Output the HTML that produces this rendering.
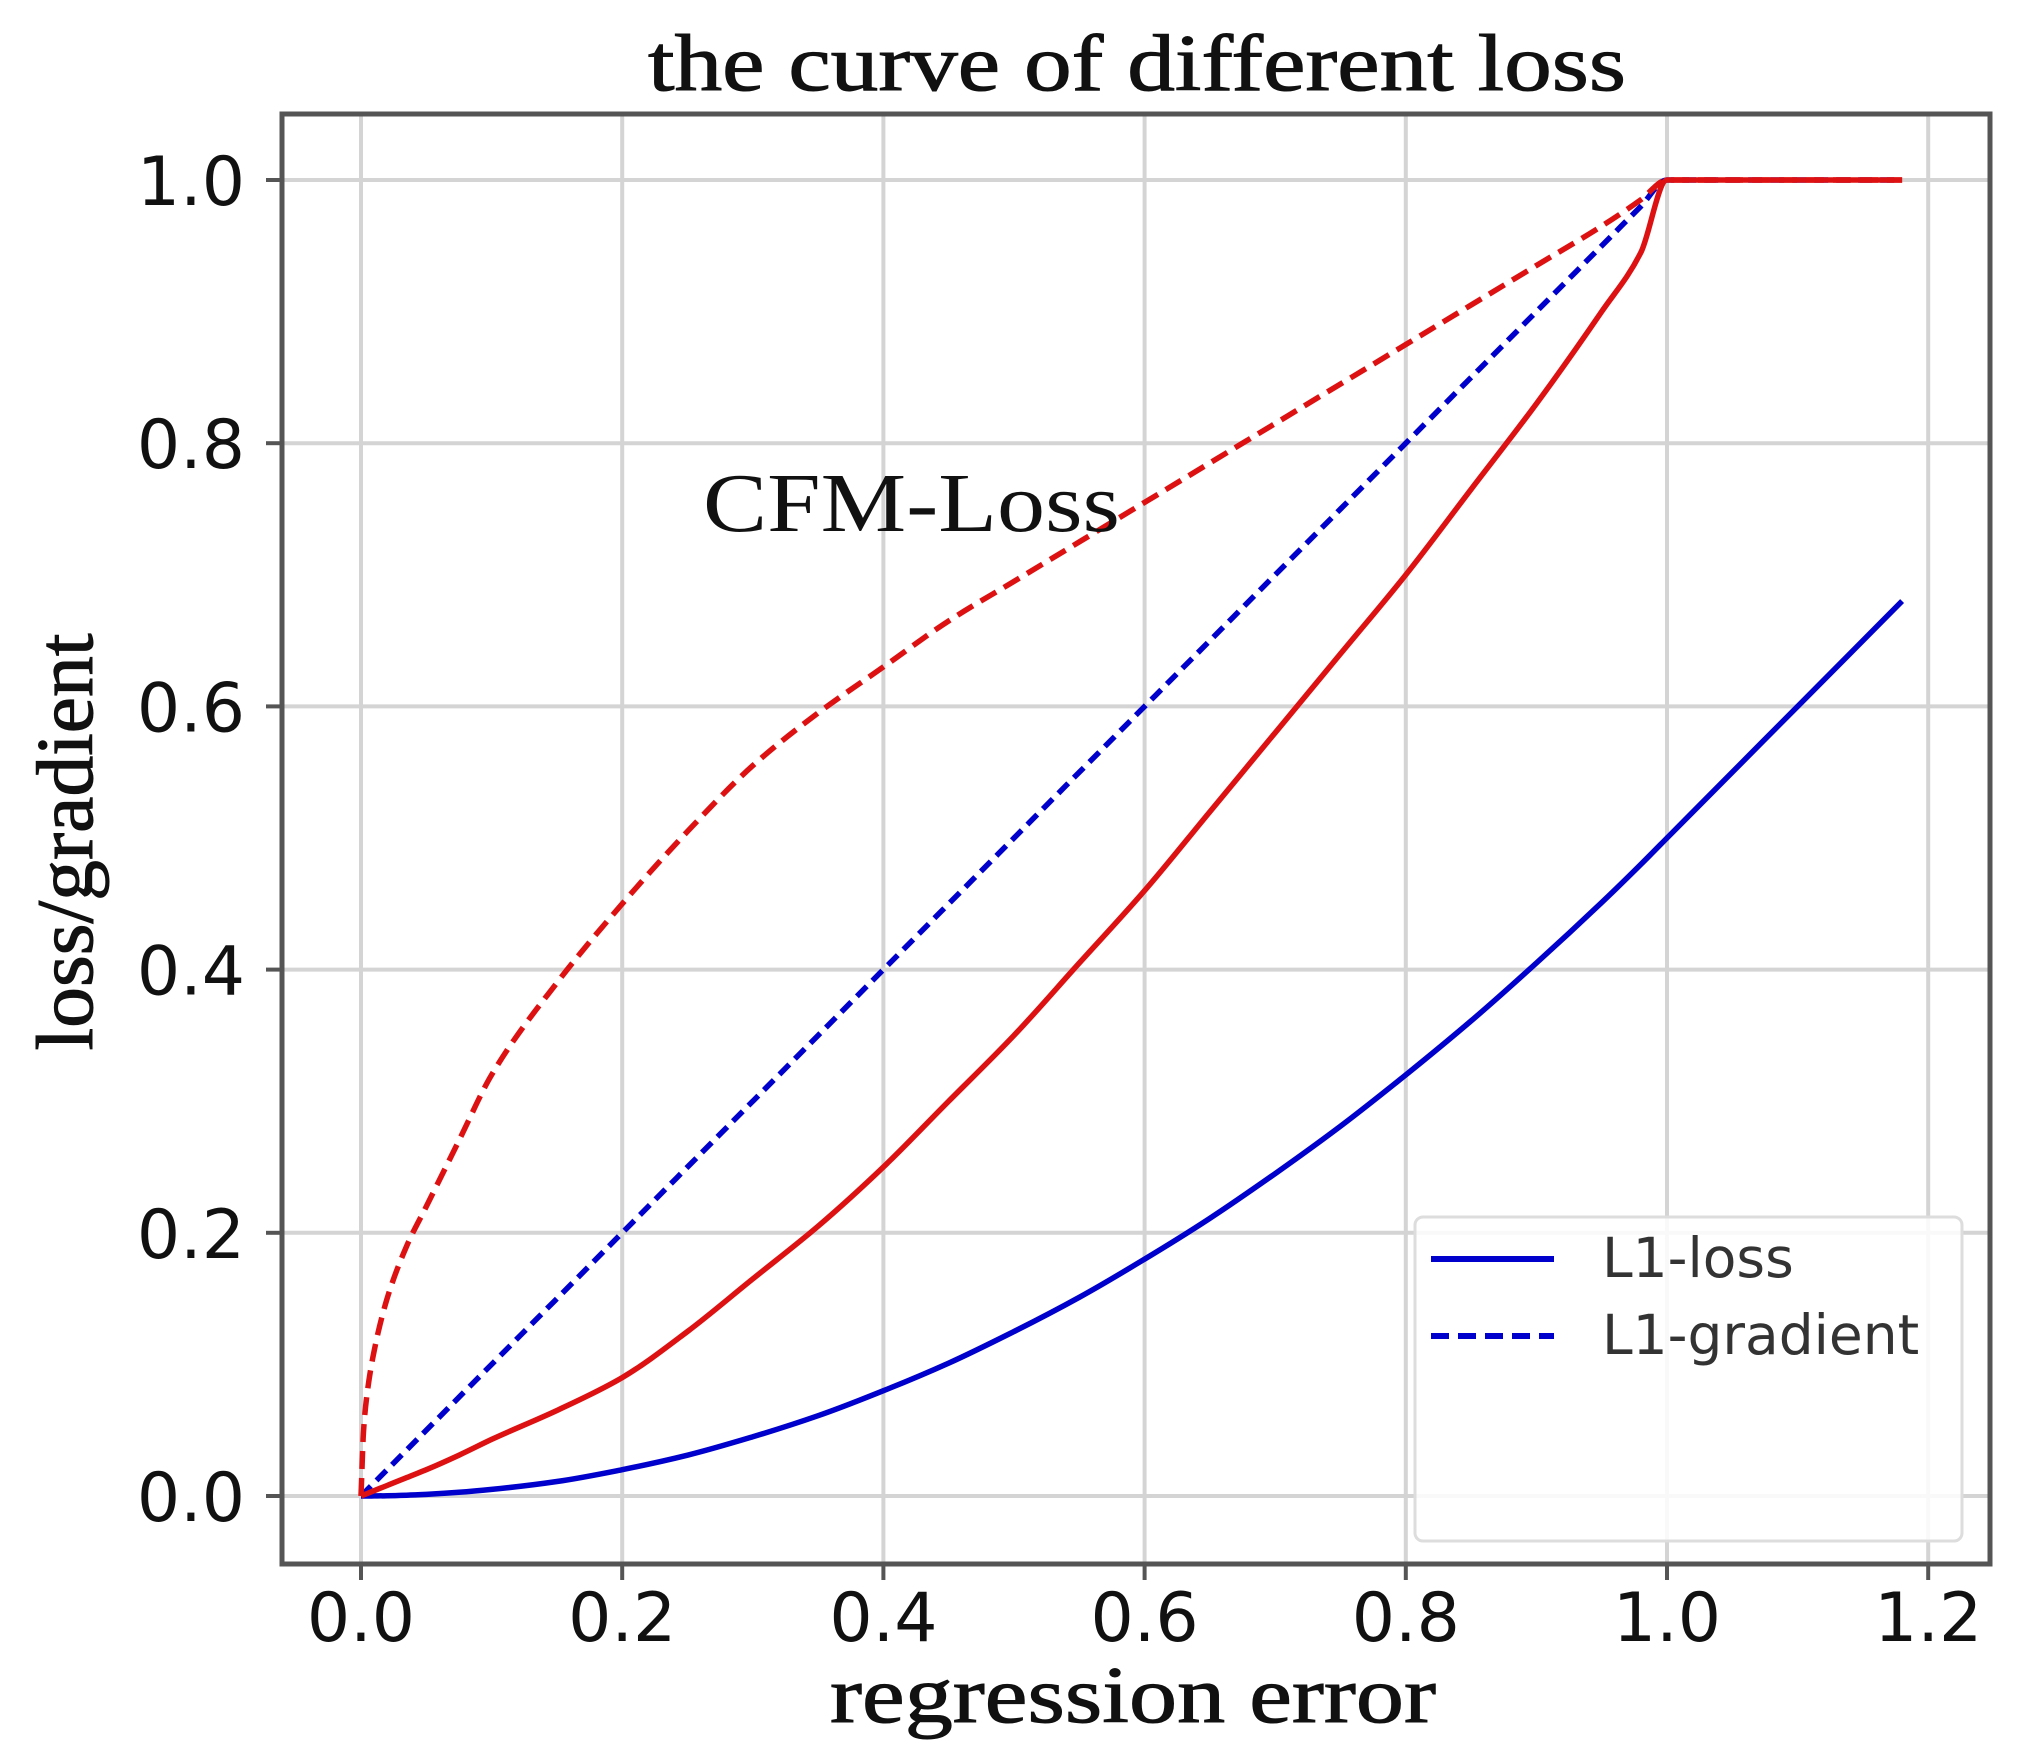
<!DOCTYPE html>
<html><head><meta charset="utf-8">
<style>
html,body{margin:0;padding:0;background:#fff;}
svg{display:block;}
</style></head>
<body>
<svg id="chart" width="2020" height="1759" viewBox="0 0 2020 1759" xmlns="http://www.w3.org/2000/svg">
  <rect x="0" y="0" width="2020" height="1759" fill="#fff"/>
  <g id="grid"></g>
  <g id="series"></g>
  <rect x="282" y="114" width="1708" height="1450" fill="none" stroke="#555" stroke-width="5"/>
  <g id="ticks"></g>
  <text x="1137" y="90" font-family="Liberation Serif, serif" font-size="80" text-anchor="middle" textLength="978" lengthAdjust="spacingAndGlyphs" fill="#111" stroke="#111" stroke-width="1">the curve of different loss</text>
  <text x="1133" y="1722" font-family="Liberation Serif, serif" font-size="80" text-anchor="middle" textLength="606" lengthAdjust="spacingAndGlyphs" fill="#111" stroke="#111" stroke-width="1">regression error</text>
  <text transform="translate(92,842) rotate(-90)" x="0" y="0" font-family="Liberation Serif, serif" font-size="80" text-anchor="middle" textLength="417" lengthAdjust="spacingAndGlyphs" fill="#111" stroke="#111" stroke-width="1">loss/gradient</text>
  <text x="703" y="531" font-family="Liberation Serif, serif" font-size="84" textLength="417" lengthAdjust="spacingAndGlyphs" fill="#111">CFM-Loss</text>
  <g>
    <rect x="1415" y="1217" width="547" height="324" rx="8" fill="#fff" fill-opacity="0.85" stroke="#ddd" stroke-width="3"/>
    <line x1="1431" y1="1259" x2="1554" y2="1259" stroke="#0000cc" stroke-width="6"/>
    <text x="1602" y="1277" font-family="DejaVu Sans, sans-serif" font-size="55" fill="#333">L1-loss</text>
    <line x1="1431" y1="1336" x2="1554" y2="1336" stroke="#0000cc" stroke-width="6" stroke-dasharray="18,9"/>
    <text x="1602" y="1354" font-family="DejaVu Sans, sans-serif" font-size="55" fill="#333">L1-gradient</text>
  </g>
</svg>
<script>
const xTicks = [0.0, 0.2, 0.4, 0.6, 0.8, 1.0, 1.2];
const xTickLabels = ["0.0","0.2","0.4","0.6","0.8","1.0","1.2"];
const yTicks = [0.0, 0.2, 0.4, 0.6, 0.8, 1.0];
const yTickLabels = ["0.0","0.2","0.4","0.6","0.8","1.0"];

const xValues = [0, 0.002, 0.005, 0.01, 0.02, 0.035, 0.05, 0.075, 0.1, 0.15, 0.2, 0.25, 0.3, 0.35, 0.4, 0.45, 0.5, 0.55, 0.6, 0.65, 0.7, 0.75, 0.8, 0.85, 0.9, 0.95, 0.98, 1.0, 1.05, 1.1, 1.18];
const l1Loss = [0, 0, 0.00001, 0.00005, 0.0002, 0.0006, 0.00125, 0.0028, 0.005, 0.011, 0.02, 0.031, 0.045, 0.061, 0.08, 0.101, 0.125, 0.151, 0.18, 0.211, 0.245, 0.281, 0.32, 0.361, 0.405, 0.451, 0.48, 0.5, 0.55, 0.6, 0.68];
const l1Gradient = [0, 0.002, 0.005, 0.01, 0.02, 0.035, 0.05, 0.075, 0.1, 0.15, 0.2, 0.25, 0.3, 0.35, 0.4, 0.45, 0.5, 0.55, 0.6, 0.65, 0.7, 0.75, 0.8, 0.85, 0.9, 0.95, 0.98, 1.0, 1.0, 1.0, 1.0];
const cfmLoss = [0, 0.0008, 0.002, 0.004, 0.008, 0.014, 0.02, 0.031, 0.043, 0.065, 0.09, 0.125, 0.165, 0.205, 0.25, 0.3, 0.35, 0.405, 0.46, 0.52, 0.58, 0.64, 0.70, 0.765, 0.83, 0.90, 0.945, 1.0, 1.0, 1.0, 1.0];
const cfmGradient = [0, 0.05, 0.08, 0.11, 0.15, 0.19, 0.22, 0.27, 0.32, 0.39, 0.45, 0.505, 0.555, 0.595, 0.63, 0.665, 0.695, 0.725, 0.755, 0.785, 0.815, 0.845, 0.875, 0.905, 0.935, 0.965, 0.985, 1.0, 1.0, 1.0, 1.0];

const NS = "http://www.w3.org/2000/svg";
const X0 = 361, XU = 1306, Y0 = 1496, YU = 1316;
function sx(v){ return X0 + v * XU; }
function sy(v){ return Y0 - v * YU; }

const grid = document.getElementById('grid');
const ticks = document.getElementById('ticks');
const series = document.getElementById('series');

xTicks.forEach((t, i) => {
  const g = document.createElementNS(NS, 'line');
  g.setAttribute('x1', sx(t)); g.setAttribute('x2', sx(t));
  g.setAttribute('y1', 114); g.setAttribute('y2', 1564);
  g.setAttribute('stroke', '#d4d4d4'); g.setAttribute('stroke-width', '4');
  
  
  grid.appendChild(g);
  const tk = document.createElementNS(NS, 'line');
  tk.setAttribute('x1', sx(t)); tk.setAttribute('x2', sx(t));
  tk.setAttribute('y1', 1564); tk.setAttribute('y2', 1580);
  tk.setAttribute('stroke', '#555'); tk.setAttribute('stroke-width', '4');
  
  
  ticks.appendChild(tk);
  const lb = document.createElementNS(NS, 'text');
  lb.setAttribute('x', sx(t)); lb.setAttribute('y', 1641);
  lb.setAttribute('text-anchor', 'middle');
  lb.setAttribute('font-family', 'DejaVu Sans, sans-serif');
  lb.setAttribute('font-size', '68');
  lb.setAttribute('fill', '#111');
  lb.textContent = xTickLabels[i];
  
  
  ticks.appendChild(lb);
});

yTicks.forEach((t, i) => {
  const g = document.createElementNS(NS, 'line');
  g.setAttribute('x1', 282); g.setAttribute('x2', 1990);
  g.setAttribute('y1', sy(t)); g.setAttribute('y2', sy(t));
  g.setAttribute('stroke', '#d4d4d4'); g.setAttribute('stroke-width', '4');
  
  
  grid.appendChild(g);
  const tk = document.createElementNS(NS, 'line');
  tk.setAttribute('x1', 266); tk.setAttribute('x2', 282);
  tk.setAttribute('y1', sy(t)); tk.setAttribute('y2', sy(t));
  tk.setAttribute('stroke', '#555'); tk.setAttribute('stroke-width', '4');
  
  
  ticks.appendChild(tk);
  const lb = document.createElementNS(NS, 'text');
  lb.setAttribute('x', 245); lb.setAttribute('y', sy(t) + 25);
  lb.setAttribute('text-anchor', 'end');
  lb.setAttribute('font-family', 'DejaVu Sans, sans-serif');
  lb.setAttribute('font-size', '68');
  lb.setAttribute('fill', '#111');
  lb.textContent = yTickLabels[i];
  
  
  ticks.appendChild(lb);
});

// Monotone cubic (Fritsch-Carlson) path — no overshoot
function smoothPath(vals){
  const n = xValues.length;
  const xs = xValues, ys = vals;
  const d = [], m = new Array(n);
  for (let i = 0; i < n - 1; i++) d.push((ys[i+1] - ys[i]) / (xs[i+1] - xs[i]));
  m[0] = d[0]; m[n-1] = d[n-2];
  for (let i = 1; i < n - 1; i++) {
    if (d[i-1] * d[i] <= 0) m[i] = 0;
    else {
      const w1 = 2*(xs[i+1]-xs[i]) + (xs[i]-xs[i-1]);
      const w2 = (xs[i+1]-xs[i]) + 2*(xs[i]-xs[i-1]);
      m[i] = (w1 + w2) / (w1 / d[i-1] + w2 / d[i]);
    }
  }
  let path = 'M' + sx(xs[0]).toFixed(1) + ',' + sy(ys[0]).toFixed(1);
  for (let i = 0; i < n - 1; i++) {
    const h = xs[i+1] - xs[i];
    const c1x = xs[i] + h/3, c1y = ys[i] + m[i]*h/3;
    const c2x = xs[i+1] - h/3, c2y = ys[i+1] - m[i+1]*h/3;
    path += ' C' + sx(c1x).toFixed(1) + ',' + sy(c1y).toFixed(1) + ' ' + sx(c2x).toFixed(1) + ',' + sy(c2y).toFixed(1) + ' ' + sx(xs[i+1]).toFixed(1) + ',' + sy(ys[i+1]).toFixed(1);
  }
  return path;
}
function drawLine(vals, color, dash, name){
  const p = document.createElementNS(NS, 'path');
  p.setAttribute('d', smoothPath(vals));
  p.setAttribute('fill', 'none');
  p.setAttribute('stroke', color);
  p.setAttribute('stroke-width', '5.5');
  p.setAttribute('stroke-linejoin', 'round');
  if (dash) p.setAttribute('stroke-dasharray', dash);
  
  
  series.appendChild(p);
}
drawLine(l1Gradient, '#0000cc', '14,8', 'l1-gradient-line');
drawLine(l1Loss, '#0000cc', null, 'l1-loss-line');
drawLine(cfmGradient, '#dd1111', '18,9', 'cfm-gradient-line');
drawLine(cfmLoss, '#dd1111', null, 'cfm-loss-line');
</script>
</body></html>
